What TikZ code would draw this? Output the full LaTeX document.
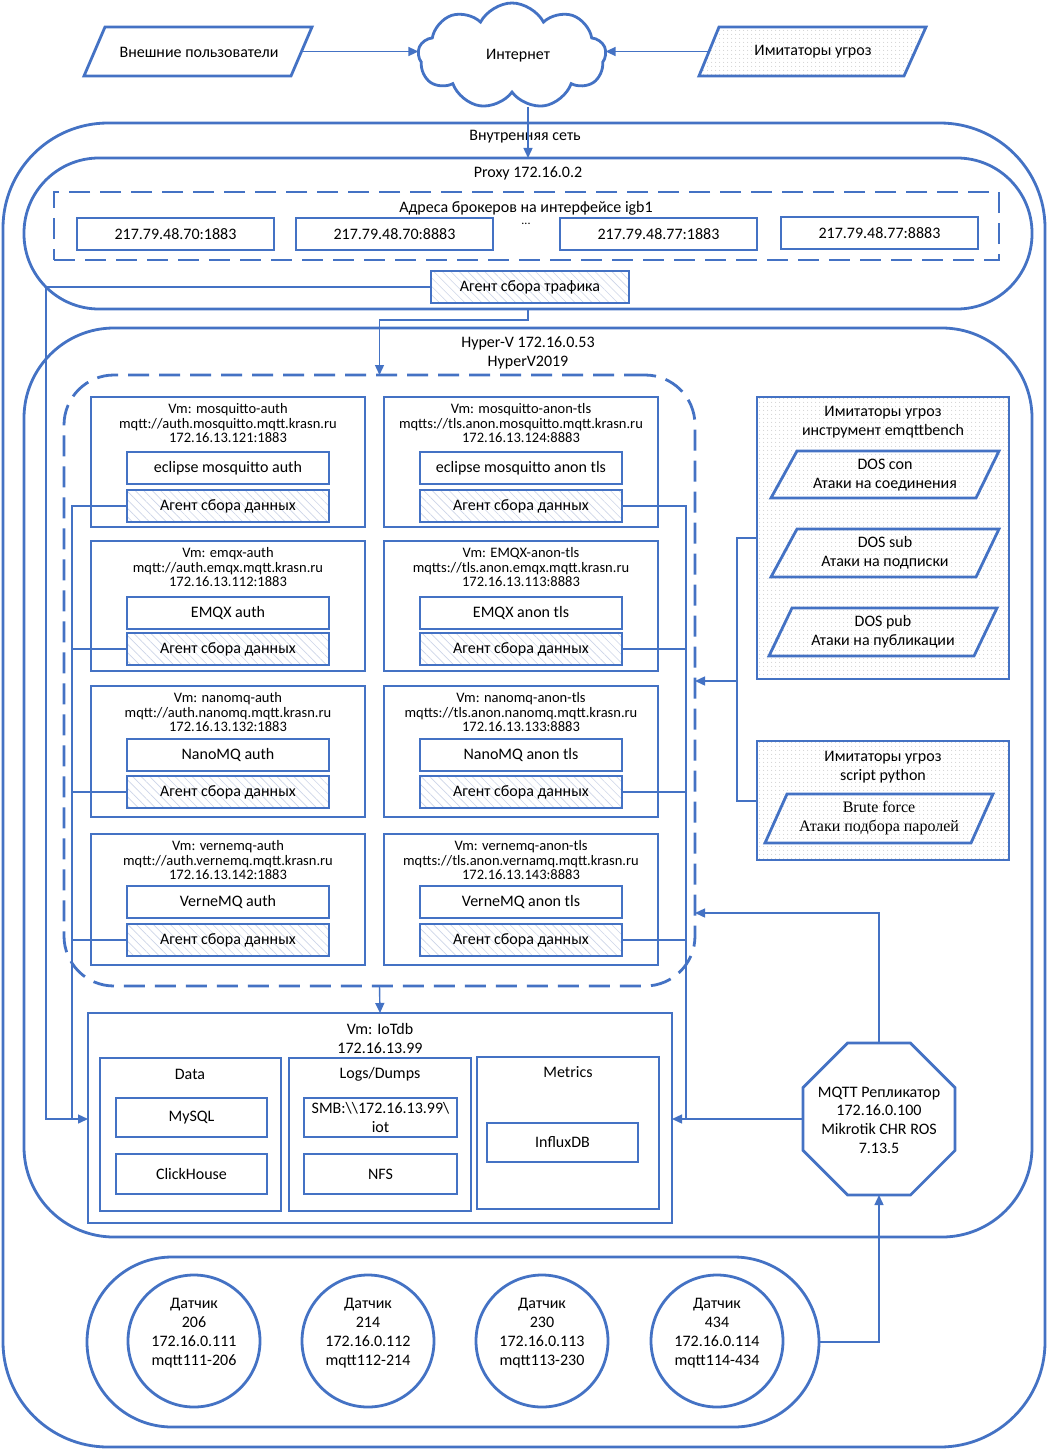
\documentclass[tikz,border=0pt]{standalone}
\usepackage{fontspec}
\setmainfont{Carlito}
\newfontfamily\tnrfont{Liberation Serif}
\usetikzlibrary{arrows.meta,shapes.symbols,shapes.geometric,patterns.meta,calc}
\definecolor{bl}{RGB}{68,114,196}
\definecolor{hatchc}{RGB}{205,213,232}
\definecolor{dotc}{RGB}{185,185,185}
\newcommand\fsA{\fontsize{14.5pt}{14.5pt}\selectfont}
\newcommand\fsB{\fontsize{16pt}{19pt}\selectfont}
\newcommand\Rbox[7]{\node[#6,minimum width={(#4)-(#2)},minimum height={(#5)-(#3)}] (#1) at ({((#2)+(#4))/2},{((#3)+(#5))/2}) {#7};}
\newcommand\VMbox[8]{%
  \Rbox{vm#1}{91+#2}{#3}{365+#2}{#4}{bx}{}
  \node[align=center,font=\fsA] (t#1) at ({228+#2},{#3+26.5}) {#7};
  \Rbox{s#1}{127+#2}{#5}{329+#2}{#5+32}{bx}{#8}
  \Rbox{a#1}{127+#2}{#6}{329+#2}{#6+32}{ag}{Агент сбора данных}}
\begin{document}
\begin{tikzpicture}[x=1pt,y=-1pt,
 every node/.style={inner sep=0pt,outer sep=0pt,font=\fsB,text=black},
 bx/.style={draw=bl,line width=2.8pt,rectangle},
 ag/.style={bx,pattern={Lines[angle=-45,distance=6pt,line width=0.6pt]},pattern color=hatchc},
 dotbg/.style={pattern={Dots[distance=4pt,radius=0.5pt]},pattern color=dotc},
 dsh/.style={draw=bl,line width=2.8pt,dash pattern=on 21pt off 10pt},
 ln/.style={draw=bl,line width=1.4pt},
 ar/.style={ln,-{Triangle[length=10pt,width=9pt]}},
 pg/.style={draw=bl,line width=2.8pt,line join=miter},
 cont/.style={draw=bl,line width=2.8pt}]
\fill[white] (0,0) rectangle (1049,1450);
\useasboundingbox (0,0) rectangle (1049,1450);

% --- top ---
\draw[pg] (105,27) -- (312,27) -- (291,76) -- (84,76) -- cycle;
\node (usr) at (199,52) {Внешние пользователи};
\draw[pg,dotbg] (719,27) -- (926,27) -- (904,76) -- (699,76) -- cycle;
\node (thr) at (813,52) {Имитаторы угроз};
\node[cloud,draw=bl,line width=2.8pt,cloud puffs=9,cloud puff arc=125,cloud ignores aspect,minimum width=188pt,minimum height=106pt] (inet) at (512,56) {};
\node (inettxt) at (518,56) {Интернет};
\coordinate (p1r) at (301.5,51.5);
\coordinate (p2l) at (709,51.5);
\draw[ar] (p1r) -- (p1r -| inet.west);
\draw[ar] (p2l) -- (p2l -| inet.east);

% --- containers ---
\node[cont,rounded corners=105pt,minimum width=1042pt,minimum height=1324pt] (inner) at (524,785) {};
\node (innertxt) at (525,137) {Внутренняя сеть};
\node[cont,rounded corners=75pt,minimum width=1008pt,minimum height=151pt] (proxy) at (528,233.5) {};
\node (proxytxt) at (528,173) {Proxy 172.16.0.2};
\coordinate (cb) at (528,107);
\draw[ar] (cb) -- (cb |- proxy.north);

\Rbox{brk}{54}{192}{999}{260}{dsh}{}
\node (brktxt) at (526,208) {Адреса брокеров на интерфейсе igb1};
\Rbox{b1}{77}{218}{274}{250}{bx}{217.79.48.70:1883}
\Rbox{b2}{296}{218}{493}{250}{bx}{217.79.48.70:8883}
\node[font=\fontsize{12pt}{12pt}\selectfont] (dots) at (526,224) {...};
\Rbox{b3}{560}{218}{757}{250}{bx}{217.79.48.77:1883}
\Rbox{b4}{781}{217}{978}{249}{bx}{217.79.48.77:8883}
\Rbox{agtr}{431}{271}{629}{303}{ag}{Агент сбора трафика}

\node[cont,rounded corners=90pt,minimum width=1008pt,minimum height=909pt] (hv) at (528,782.5) {};
\node[align=center] (hvtxt) at (528,352.5) {Hyper-V 172.16.0.53\\HyperV2019};
\node[dsh,rounded corners=50pt,minimum width=631pt,minimum height=611pt] (vmg) at (379.5,680.5) {};
\draw[ar] (proxy.south) -- ++(0,11) -| (vmg.north);

% --- VMs ---
\VMbox{L1}{0}{397}{527}{452}{490}{Vm: mosquitto-auth\\mqtt://auth.mosquitto.mqtt.krasn.ru\\172.16.13.121:1883}{eclipse mosquitto auth}
\VMbox{R1}{293}{397}{527}{452}{490}{Vm: mosquitto-anon-tls\\mqtts://tls.anon.mosquitto.mqtt.krasn.ru\\172.16.13.124:8883}{eclipse mosquitto anon tls}
\VMbox{L2}{0}{541}{671}{597}{633}{Vm: emqx-auth\\mqtt://auth.emqx.mqtt.krasn.ru\\172.16.13.112:1883}{EMQX auth}
\VMbox{R2}{293}{541}{671}{597}{633}{Vm: EMQX-anon-tls\\mqtts://tls.anon.emqx.mqtt.krasn.ru\\172.16.13.113:8883}{EMQX anon tls}
\VMbox{L3}{0}{686}{817}{739}{776}{Vm: nanomq-auth\\mqtt://auth.nanomq.mqtt.krasn.ru\\172.16.13.132:1883}{NanoMQ auth}
\VMbox{R3}{293}{686}{817}{739}{776}{Vm: nanomq-anon-tls\\mqtts://tls.anon.nanomq.mqtt.krasn.ru\\172.16.13.133:8883}{NanoMQ anon tls}
\VMbox{L4}{0}{834}{965}{886}{924}{Vm: vernemq-auth\\mqtt://auth.vernemq.mqtt.krasn.ru\\172.16.13.142:1883}{VerneMQ auth}
\VMbox{R4}{293}{834}{965}{886}{924}{Vm: vernemq-anon-tls\\mqtts://tls.anon.vernamq.mqtt.krasn.ru\\172.16.13.143:8883}{VerneMQ anon tls}

% --- threat simulators ---
\Rbox{em}{757}{397}{1009}{679}{bx,dotbg}{}
\node[align=center] (emt) at (883,422) {Имитаторы угроз\\инструмент emqttbench};
\draw[pg] (797,451) -- (999,451) -- (976,498) -- (771,498) -- cycle;
\node[align=center] (dc) at (885,475) {DOS con\\Атаки на соединения};
\draw[pg] (797,529) -- (999,529) -- (976,577) -- (771,577) -- cycle;
\node[align=center] (ds) at (885,553) {DOS sub\\Атаки на подписки};
\draw[pg] (792,608) -- (997,608) -- (974,656) -- (769,656) -- cycle;
\node[align=center] (dp) at (883,632) {DOS pub\\Атаки на публикации};
\Rbox{scr}{757}{741}{1009}{860}{bx,dotbg}{}
\node[align=center] (scrt) at (883,767) {Имитаторы угроз\\script python};
\draw[pg] (787,794) -- (993,794) -- (971,843) -- (765,843) -- cycle;
\node[align=center,font=\tnrfont\fsB] (bf) at (879,818.5) {Brute force\\Атаки подбора паролей};
\coordinate (ej1) at (737,538);
\coordinate (ej2) at (737,801);
\coordinate (ej3) at (737,681);
\draw[ln] (em.west |- ej1) -- (ej1) -- (ej2) -- (scr.west |- ej2);
\draw[ar] (ej3) -- (vmg.east |- ej3);

% --- IoTdb ---
\Rbox{iot}{88}{1013}{672}{1223}{bx}{}
\node[align=center] (iott) at (380,1038.5) {Vm: IoTdb\\172.16.13.99};
\Rbox{data}{100}{1058}{281}{1211}{bx}{}
\node (datat) at (190,1074) {Data};
\Rbox{mysql}{116}{1098}{267}{1137}{bx}{MySQL}
\Rbox{ch}{116}{1154}{267}{1194}{bx}{ClickHouse}
\Rbox{logs}{289}{1058}{471}{1211}{bx}{}
\node (logst) at (380,1074) {Logs/Dumps};
\Rbox{smb}{304}{1098}{457}{1137}{bx,align=center}{SMB:\textbackslash\textbackslash 172.16.13.99\textbackslash\\iot}
\Rbox{nfs}{304}{1154}{457}{1194}{bx}{NFS}
\Rbox{met}{477}{1057}{659}{1209}{bx}{}
\node (mett) at (568,1072) {Metrics};
\Rbox{influx}{487}{1123}{638}{1162}{bx}{InfluxDB}
\draw[ar] (vmg.south) -- (iot.north);

% --- replicator ---
\node[regular polygon,regular polygon sides=8,minimum size=164.5pt,draw=bl,line width=2.8pt] (oct) at (879,1119) {};
\node[align=center,font=\fontsize{16pt}{18.7pt}\selectfont] (octt) at (879,1120) {MQTT Репликатор\\172.16.0.100\\Mikrotik CHR ROS\\7.13.5};

% --- collectors ---
\coordinate (jl) at (72,1119);
\coordinate (jt) at (46,1119);
\coordinate (jr) at (686,1119);
\draw[ar] (agtr.west) -| (jt) -- (iot.west |- jt);
\foreach \i in {1,...,4} {
  \draw[ln] (aL\i.west) -| (jl);
  \draw[ln] (aR\i.east) -| (jr);
}
\draw[ar] (oct.west) -- (iot.east |- oct.west);
\coordinate (oj) at (879,913);
\draw[ar] (oct.north) -- (oj) -- (vmg.east |- oj);

% --- sensors ---
\node[cont,rounded corners=85pt,minimum width=732pt,minimum height=170pt] (sens) at (453,1342) {};
\foreach \n/\x/\num/\ip/\mq in {1/194/206/111/111-206, 2/368/214/112/112-214, 3/542/230/113/113-230, 4/717/434/114/114-434} {
  \node[circle,draw=bl,line width=2.8pt,minimum size=132pt] (d\n) at (\x,1341) {};
  \node[align=center] (dt\n) at (\x,1333) {Датчик\\\num\\172.16.0.\ip\\mqtt\mq};
}
\draw[ar] (sens.east) -| (oct.south);
\end{tikzpicture}
\end{document}
